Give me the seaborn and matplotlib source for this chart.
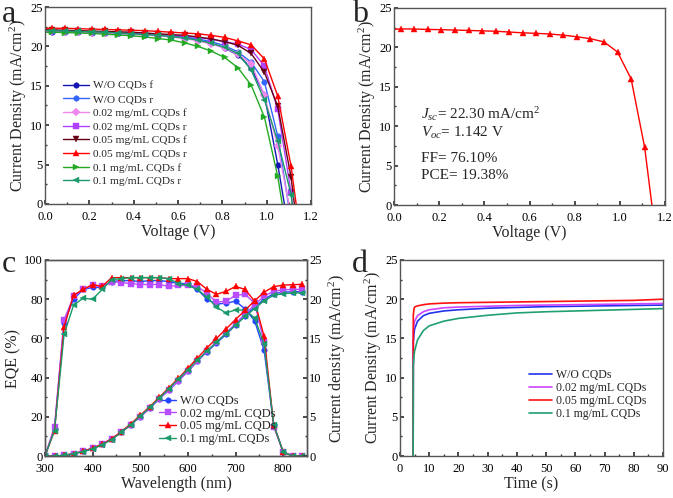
import matplotlib
matplotlib.use('Agg')
import matplotlib.pyplot as plt
import seaborn as sns
from matplotlib.ticker import MultipleLocator

sns.set_theme(style='ticks')
plt.rcParams['font.family'] = ['Liberation Serif', 'DejaVu Serif']
plt.rcParams['mathtext.fontset'] = 'custom'
plt.rcParams['mathtext.rm'] = 'Liberation Serif'
plt.rcParams['mathtext.it'] = 'Liberation Serif:italic'

# ---- panel a: J-V curves (forward / reverse scans) ----
volt_grid = [0.03, 0.09, 0.15, 0.21, 0.27, 0.33, 0.39, 0.45, 0.51, 0.57,
             0.63, 0.69, 0.75, 0.81, 0.87, 0.93, 0.99, 1.05, 1.11]
jv_labels = ['W/O CQDs f', 'W/O CQDs r', '0.02 mg/mL CQDs f', '0.02 mg/mL CQDs r',
             '0.05 mg/mL CQDs f', '0.05 mg/mL CQDs r', '0.1 mg/mL CQDs f', '0.1 mg/mL CQDs r']
jv_jsc = [21.85, 22.0, 21.9, 22.0, 22.1, 22.3, 21.8, 22.0]
jv_voc = [1.08, 1.098, 1.10, 1.116, 1.125, 1.133, 1.07, 1.115]
jv_wo_f = [21.85, 21.8, 21.8, 21.75, 21.7, 21.65, 21.6, 21.5, 21.4, 21.3, 21.1, 20.8,
           20.4, 19.8, 18.9, 17.3, 13.8, 5.0]
jv_wo_r = [22.0, 21.95, 21.9, 21.85, 21.8, 21.75, 21.7, 21.6, 21.5, 21.4, 21.2, 20.95,
           20.6, 20.1, 19.3, 18.0, 15.5, 8.6]
jv_002_f = [21.9, 21.85, 21.8, 21.75, 21.7, 21.65, 21.55, 21.45, 21.35, 21.2, 21.0, 20.7,
            20.3, 19.8, 19.0, 17.8, 13.8, 7.3]
jv_002_r = [22.0, 21.95, 21.9, 21.85, 21.8, 21.75, 21.7, 21.6, 21.5, 21.4, 21.3, 21.15,
            20.9, 20.6, 20.3, 19.6, 17.5, 12.0, 1.5]
jv_005_f = [22.1, 22.05, 22.0, 21.95, 21.9, 21.85, 21.8, 21.7, 21.6, 21.5, 21.4, 21.2,
            20.95, 20.6, 20.15, 19.1, 16.7, 12.4, 3.4]
jv_005_r = [22.3, 22.3, 22.25, 22.2, 22.15, 22.1, 22.05, 22.0, 21.9, 21.8, 21.7, 21.6,
            21.4, 21.15, 20.7, 20.2, 18.4, 13.7, 4.8]
jv_01_f = [21.8, 21.75, 21.7, 21.65, 21.55, 21.45, 21.35, 21.2, 21.0, 20.8, 20.45, 20.0,
           19.4, 18.6, 17.3, 15.1, 11.0, 3.5]
jv_01_r = [22.0, 21.95, 21.9, 21.85, 21.8, 21.7, 21.6, 21.5, 21.4, 21.25, 21.05, 20.8,
           20.4, 19.9, 19.1, 17.0, 13.2, 8.0, 1.2]
jv_curves = [jv_wo_f, jv_wo_r, jv_002_f, jv_002_r, jv_005_f, jv_005_r, jv_01_f, jv_01_r]
jv_colors = ['#1414b4', '#3366ff', '#ee88ee', '#b040ff', '#640014', '#ff0000', '#22aa22', '#1a9a6a']
jv_markers = ['o', 'o', 'D', 's', 'v', '^', '>', '<']

# ---- panel b: champion device ----
champ_curr = [22.35, 22.33, 22.28, 22.25, 22.2, 22.15, 22.1, 22.05, 21.95, 21.85,
              21.78, 21.7, 21.55, 21.35, 21.1, 20.7, 19.4, 16.0, 7.3]
champ_jsc = 22.30
champ_voc = 1.142

# ---- panel c: EQE and integrated current ----
wavelength = [300, 320, 340, 360, 380, 400, 420, 440, 460, 480, 500, 520, 540, 560,
              580, 600, 620, 640, 660, 680, 700, 720, 740, 760, 780, 800, 820, 840]
eqe_labels = ['W/O CQDs', '0.02 mg/mL CQDs', '0.05 mg/mL CQDs', '0.1 mg/mL CQDs']
eqe_wo = [0, 14, 68, 80, 85, 86, 86, 89, 89.5, 89.5, 89, 89.5, 89.5, 89,
          88, 88, 85, 80, 77.5, 78, 79, 75, 69, 54, 16, 2, 0, 0]
eqe_002 = [0, 15, 69.5, 81.5, 85, 87, 86.5, 89, 88.5, 88, 87.5, 87.5, 87.5, 86.5,
           87, 87, 86.5, 83, 78.5, 79, 82, 82.5, 78, 58, 15, 2, 0, 0]
eqe_005 = [0, 13, 66, 82, 85, 87.5, 86.5, 91, 91, 91, 91, 91, 91, 90.5,
           90.5, 90.5, 89, 85, 82.5, 84, 86.5, 85, 79, 61, 16, 2, 0, 0]
eqe_01 = [0, 13, 62, 77, 80.5, 80, 85, 90, 90.5, 91, 91, 91, 91, 90.5,
          88, 87, 85, 81, 76, 73, 74.5, 74.5, 70.5, 57, 16, 2, 0, 0]
jint_wo = [0, 0, 0.08, 0.3, 0.6, 1.0, 1.5, 2.2, 3.0, 4.0, 5.0, 6.1, 7.3, 8.4,
           9.6, 10.8, 12.1, 13.3, 14.4, 15.5, 16.7, 17.9, 19.0, 20.0, 20.7, 20.9, 20.95, 20.95]
jint_002 = [0, 0, 0.08, 0.3, 0.6, 1.0, 1.5, 2.2, 3.0, 4.0, 5.0, 6.1, 7.3, 8.4,
            9.6, 10.8, 12.1, 13.4, 14.5, 15.7, 16.9, 18.1, 19.3, 20.4, 21.0, 21.2, 21.25, 21.25]
jint_005 = [0, 0, 0.08, 0.3, 0.6, 1.0, 1.5, 2.2, 3.1, 4.1, 5.2, 6.3, 7.5, 8.7,
            9.9, 11.2, 12.5, 13.8, 15.0, 16.2, 17.4, 18.6, 19.8, 20.9, 21.6, 21.8, 21.85, 21.9]
jint_01 = [0, 0, 0.07, 0.28, 0.55, 0.9, 1.4, 2.1, 3.0, 4.0, 5.1, 6.2, 7.4, 8.6,
           9.8, 11.0, 12.2, 13.4, 14.5, 15.6, 16.7, 17.8, 18.8, 19.8, 20.5, 20.7, 20.8, 20.8]
eqe_curves = [eqe_wo, eqe_002, eqe_005, eqe_01]
jint_curves = [jint_wo, jint_002, jint_005, jint_01]
eqe_colors = ['#2244ff', '#b84dff', '#ff0000', '#1a9a6a']
eqe_markers = ['o', 's', '^', '<']

# ---- panel d: stabilised current ----
time_s = [4.5, 4.55, 4.8, 5, 6, 8, 10, 15, 20, 30, 40, 50, 60, 70, 80, 90]
jt_wo = [0, 14.5, 15.6, 16.2, 17.2, 17.9, 18.2, 18.5, 18.65, 18.85, 18.95, 19.05, 19.1, 19.15, 19.2, 19.25]
jt_002 = [0, 15.8, 16.8, 17.2, 17.9, 18.4, 18.65, 18.9, 19.0, 19.1, 19.2, 19.25, 19.3, 19.35, 19.4, 19.45]
jt_005 = [0, 18.0, 18.8, 19.0, 19.15, 19.3, 19.4, 19.5, 19.55, 19.6, 19.65, 19.7, 19.75, 19.8, 19.85, 20.0]
jt_01 = [0, 11.5, 12.8, 13.4, 14.8, 16.0, 16.6, 17.2, 17.55, 17.95, 18.25, 18.4, 18.5, 18.6, 18.7, 18.8]
jt_curves = [jt_wo, jt_002, jt_005, jt_01]
jt_colors = ['#2233ee', '#cc44ff', '#ff1010', '#20a070']

W, H = 673, 498
fig = plt.figure(figsize=(W / 100, H / 100), dpi=100)


def box(l, r, t, b):
    return [l / W, (H - b) / H, (r - l) / W, (b - t) / H]


def style(ax, xmaj, xmin, ymaj, ymin):
    for s in ax.spines.values():
        s.set_color('#555555')
        s.set_linewidth(1.0)
    ax.xaxis.set_major_locator(MultipleLocator(xmaj))
    ax.xaxis.set_minor_locator(MultipleLocator(xmin))
    ax.yaxis.set_major_locator(MultipleLocator(ymaj))
    ax.yaxis.set_minor_locator(MultipleLocator(ymin))
    ax.tick_params(which='both', direction='in', labelsize=9, colors='#333333', labelcolor='black')
    ax.tick_params(axis='y', which='both', pad=1.5)
    ax.tick_params(axis='x', which='both', pad=5)
    ax.tick_params(which='major', length=3)
    ax.tick_params(which='minor', length=1.5)


lab = dict(fontsize=11.5)
ylab = r'Current Density (mA/cm$^2$)'

# a
ax_a = fig.add_axes(box(45, 311, 7, 204))
for curve, lbl, c, m, jsc, voc in zip(jv_curves, jv_labels, jv_colors, jv_markers, jv_jsc, jv_voc):
    xs = [0] + volt_grid[:len(curve)] + [voc]
    ys = [jsc] + curve + [0]
    sns.lineplot(x=xs, y=ys, ax=ax_a, color=c, marker=m, markersize=4, markeredgewidth=0.3,
                 markeredgecolor=c, linewidth=1, label=lbl, sort=False, estimator=None,
                 markevery=list(range(1, len(xs) - 1)))
ax_a.set_xlim(0, 1.2)
ax_a.set_ylim(0, 25)
style(ax_a, 0.2, 0.1, 5, 2.5)
ax_a.set_xlabel('Voltage (V)', labelpad=1, **lab)
ax_a.set_ylabel(ylab, labelpad=1, **lab)
ax_a.legend(loc='upper left', bbox_to_anchor=(0.068, 0.625), frameon=False, fontsize=8.2,
            handlelength=2.3, handletextpad=0.3, labelspacing=0.32, borderpad=0, borderaxespad=0)

# b
ax_b = fig.add_axes(box(394, 665, 8, 205))
xs = [0] + volt_grid + [champ_voc]
ys = [champ_jsc] + champ_curr + [0]
sns.lineplot(x=xs, y=ys, ax=ax_b, color='#ff0000', marker='^', markersize=4.5, markeredgewidth=0.3,
             markeredgecolor='#ff0000', linewidth=1, sort=False, estimator=None,
             markevery=list(range(1, len(xs) - 1)))
ax_b.set_xlim(0, 1.2)
ax_b.set_ylim(0, 25)
style(ax_b, 0.2, 0.1, 5, 2.5)
ax_b.set_xlabel('Voltage (V)', labelpad=1, **lab)
ax_b.set_ylabel(ylab, labelpad=1, **lab)
txt = dict(fontsize=11, transform=ax_b.transData, va='center', ha='left')
ax_b.text(0.12, 11.6, r'$J_{sc}$= %.2f mA/cm$^2$' % champ_jsc, **txt)
ax_b.text(0.12, 9.1, r'$V_{oc}$= %.3f V' % champ_voc, **txt)
ax_b.text(0.12, 5.9, 'FF= 76.10%', **txt)
ax_b.text(0.12, 3.8, 'PCE= 19.38%', **txt)

# c
ax_c = fig.add_axes(box(45, 307, 260, 456))
ax_c2 = ax_c.twinx()
for eqe, jint, lbl, c, m in zip(eqe_curves, jint_curves, eqe_labels, eqe_colors, eqe_markers):
    sns.lineplot(x=wavelength, y=eqe, ax=ax_c, color=c, marker=m, markersize=4, markeredgewidth=0.3,
                 markeredgecolor=c, linewidth=1, label=lbl, sort=False, estimator=None)
    sns.lineplot(x=wavelength, y=jint, ax=ax_c2, color=c, marker=m, markersize=4, markeredgewidth=0.3,
                 markeredgecolor=c, linewidth=1, sort=False, estimator=None)
ax_c.set_xlim(300, 850)
ax_c.set_ylim(0, 100)
ax_c2.set_ylim(0, 25)
style(ax_c, 100, 50, 20, 10)
style(ax_c2, 100, 50, 5, 2.5)
ax_c.set_xlabel('Wavelength (nm)', labelpad=1, **lab)
ax_c.set_ylabel('EQE (%)', labelpad=2, **lab)
ax_c2.set_ylabel(r'Current density (mA/cm$^2$)', **lab)
ax_c.legend(loc='upper left', bbox_to_anchor=(0.435, 0.31), frameon=False, fontsize=9,
            handlelength=1.4, handletextpad=0.3, labelspacing=0.05, borderpad=0, borderaxespad=0)

# d
ax_d = fig.add_axes(box(400, 663, 260, 456))
for jt, lbl, c in zip(jt_curves, eqe_labels, jt_colors):
    sns.lineplot(x=time_s, y=jt, ax=ax_d, color=c, linewidth=1.2, label=lbl, sort=False, estimator=None)
ax_d.set_xlim(0, 90)
ax_d.set_ylim(0, 25)
style(ax_d, 10, 5, 5, 2.5)
ax_d.set_xlabel('Time (s)', labelpad=1, **lab)
ax_d.set_ylabel(ylab, labelpad=1, **lab)
ax_d.legend(loc='upper left', bbox_to_anchor=(0.49, 0.445), frameon=False, fontsize=8.5,
            handlelength=2.0, handletextpad=0.3, labelspacing=0.1, borderpad=0, borderaxespad=0)

for x, y, s in [(2, 0, 'a'), (352, 0, 'b'), (2, 250, 'c'), (352, 250, 'd')]:
    fig.text(x / W, 1 - y / H, s, fontsize=23, va='top', ha='left')

fig.savefig('out.png', dpi=100)
